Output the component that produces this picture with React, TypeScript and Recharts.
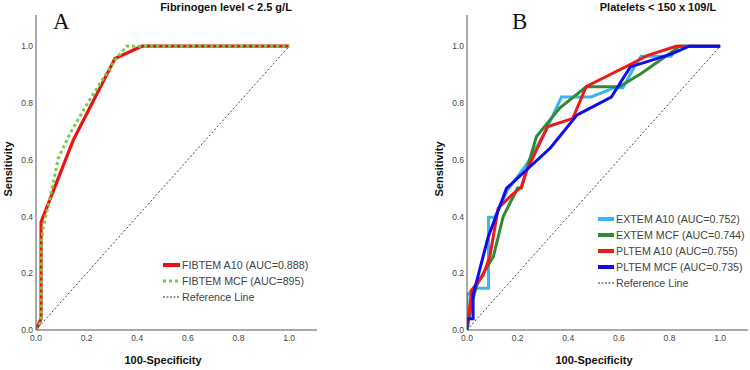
import React from 'react';
import { LineChart, Line, XAxis, YAxis } from 'recharts';

// Panel A — Fibrinogen level < 2.5 g/L
const fibA10X = [0, 0.02, 0.02, 0.147, 0.312, 0.418, 1];
const fibA10Y = [0, 0.04, 0.38, 0.669, 0.957, 1, 1];
const fibMcfX = [0, 0.02, 0.02, 0.03, 0.055, 0.088, 0.134, 0.207, 0.253, 0.312, 0.358, 1];
const fibMcfY = [0, 0.03, 0.3, 0.37, 0.464, 0.605, 0.692, 0.804, 0.869, 0.951, 1, 1];

// Panel B — Platelets < 150 x 109/L
const extA10X = [0, 0, 0.025, 0.085, 0.085, 0.11, 0.16, 0.24, 0.31, 0.373, 0.49, 0.583, 0.616, 0.661, 0.688, 0.806, 0.832, 1];
const extA10Y = [0, 0.12, 0.147, 0.147, 0.397, 0.397, 0.493, 0.59, 0.7, 0.821, 0.821, 0.854, 0.854, 0.927, 0.965, 0.965, 1, 1];
const extMcfX = [0, 0.02, 0.04, 0.064, 0.104, 0.143, 0.2, 0.215, 0.274, 0.366, 0.471, 0.602, 0.688, 0.819, 0.839, 1];
const extMcfY = [0, 0.1, 0.16, 0.2, 0.258, 0.4, 0.5, 0.5, 0.681, 0.782, 0.857, 0.857, 0.904, 0.986, 1, 1];
const plA10X = [0, 0.005, 0.018, 0.064, 0.09, 0.123, 0.17, 0.215, 0.235, 0.318, 0.418, 0.471, 0.648, 0.714, 0.826, 1];
const plA10Y = [0.02, 0.035, 0.14, 0.194, 0.258, 0.428, 0.47, 0.505, 0.56, 0.716, 0.746, 0.858, 0.937, 0.968, 1, 1];
const plMcfX = [0, 0, 0.024, 0.024, 0.084, 0.156, 0.33, 0.435, 0.57, 0.645, 0.806, 0.878, 1];
const plMcfY = [0, 0.04, 0.04, 0.123, 0.329, 0.499, 0.642, 0.758, 0.821, 0.927, 0.972, 1, 1];

const refX = [0, 1];
const refY = [0, 1];

const ticks = [0, 0.2, 0.4, 0.6, 0.8, 1.0];

const zip = (xs: number[], ys: number[]) => xs.map((x, i) => ({ x, y: ys[i] }));

const FONT = '"Liberation Sans", Arial, sans-serif';

type Item = { label: string; color: string; width: number; dash?: string };

const legendA: Item[] = [
  { label: 'FIBTEM A10 (AUC=0.888)', color: '#ee1111', width: 4 },
  { label: 'FIBTEM MCF (AUC=895)', color: '#6fcf3f', width: 3, dash: '3 3' },
  { label: 'Reference Line', color: '#333333', width: 1, dash: '2 1.5' },
];
const legendB: Item[] = [
  { label: 'EXTEM A10 (AUC=0.752)', color: '#3cb4f0', width: 4 },
  { label: 'EXTEM MCF (AUC=0.744)', color: '#2e8b30', width: 4 },
  { label: 'PLTEM A10 (AUC=0.755)', color: '#f21818', width: 4 },
  { label: 'PLTEM MCF (AUC=0.735)', color: '#0c0cf0', width: 4 },
  { label: 'Reference Line', color: '#333333', width: 1, dash: '2 1.5' },
];

const LegendBox = ({ items, sw, left, top }: { items: Item[]; sw: number; left: number; top: number }) => (
  <div style={{ position: 'absolute', left, top, fontFamily: FONT, fontSize: 10.7, color: '#444' }}>
    {items.map((it) => (
      <div key={it.label} style={{ display: 'flex', alignItems: 'center', height: 16, whiteSpace: 'nowrap' }}>
        <svg width={sw} height={16} style={{ display: 'block' }}>
          <line x1={0} y1={8} x2={sw} y2={8} stroke={it.color} strokeWidth={it.width} strokeDasharray={it.dash} />
        </svg>
        <span style={{ marginLeft: 2, lineHeight: '16px' }}>{it.label}</span>
      </div>
    ))}
  </div>
);

const axisProps = {
  type: 'number' as const,
  domain: [0, 1.11] as [number, number],
  ticks,
  allowDataOverflow: true,
  tickLine: false,
  tickSize: 0,
  axisLine: { stroke: '#555', strokeWidth: 1 },
  tick: { fill: '#444', fontSize: 8.5, fontFamily: FONT },
  tickFormatter: (v: number) => v.toFixed(1),
};

type Series = { data: { x: number; y: number }[]; color: string; width: number; dash?: string; key: string };

const Panel = ({ isA, series }: { isA: boolean; series: Series[] }) => (
  <LineChart width={375} height={370} margin={{ top: 15, right: isA ? 58 : 2, bottom: 0, left: isA ? 0 : 56 }}>
    <XAxis dataKey="x" {...axisProps} height={40} tickMargin={5} />
    <YAxis dataKey="y" {...axisProps} width={36} tickMargin={3} />
    {series.map((s) => (
      <Line
        key={s.key}
        data={s.data}
        dataKey="y"
        type="linear"
        stroke={s.color}
        strokeWidth={s.width}
        strokeDasharray={s.dash}
        dot={false}
        activeDot={false}
        isAnimationActive={false}
        legendType="none"
      />
    ))}
  </LineChart>
);

export default function App() {
  const seriesA: Series[] = [
    { key: 'ref', data: zip(refX, refY), color: '#444', width: 1, dash: '2 2' },
    { key: 'a10', data: zip(fibA10X, fibA10Y), color: '#ee1111', width: 3.2 },
    { key: 'mcf', data: zip(fibMcfX, fibMcfY), color: '#6fcf3f', width: 3, dash: '3 3' },
  ];
  const seriesB: Series[] = [
    { key: 'ref', data: zip(refX, refY), color: '#444', width: 1, dash: '2 2' },
    { key: 'ea10', data: zip(extA10X, extA10Y), color: '#3cb4f0', width: 3 },
    { key: 'emcf', data: zip(extMcfX, extMcfY), color: '#2e8b30', width: 3 },
    { key: 'pa10', data: zip(plA10X, plA10Y), color: '#f21818', width: 3 },
    { key: 'pmcf', data: zip(plMcfX, plMcfY), color: '#0c0cf0', width: 3 },
  ];
  return (
    <div style={{ position: 'absolute', left: 0, top: 0, width: 750, height: 370, background: '#fff', overflow: 'hidden' }}>
      <div style={{ position: 'absolute', left: 0, top: 0 }}>
        <Panel isA={true} series={seriesA} />
      </div>
      <div style={{ position: 'absolute', left: 375, top: 0 }}>
        <Panel isA={false} series={seriesB} />
      </div>
      <LegendBox items={legendA} sw={17} left={163} top={257} />
      <LegendBox items={legendB} sw={16} left={598} top={211} />
      <svg width={750} height={370} style={{ position: 'absolute', left: 0, top: 0, pointerEvents: 'none' }}>
        <g fontFamily={FONT} fontWeight="bold" fontSize={11} fill="#111">
          <text x={226} y={11} textAnchor="middle">Fibrinogen level &lt; 2.5 g/L</text>
          <text x={658} y={11} textAnchor="middle">Platelets &lt; 150 x 109/L</text>
          <text x={163} y={364} textAnchor="middle">100-Specificity</text>
          <text x={594} y={364} textAnchor="middle">100-Specificity</text>
          <text x={12} y={169} textAnchor="middle" transform="rotate(-90 12 169)">Sensitivity</text>
          <text x={443} y={169} textAnchor="middle" transform="rotate(-90 443 169)">Sensitivity</text>
        </g>
        <g fontFamily='"Liberation Serif", "Times New Roman", serif' fontSize={23} fill="#111">
          <text x={53} y={29}>A</text>
          <text x={512} y={29}>B</text>
        </g>
      </svg>
    </div>
  );
}
